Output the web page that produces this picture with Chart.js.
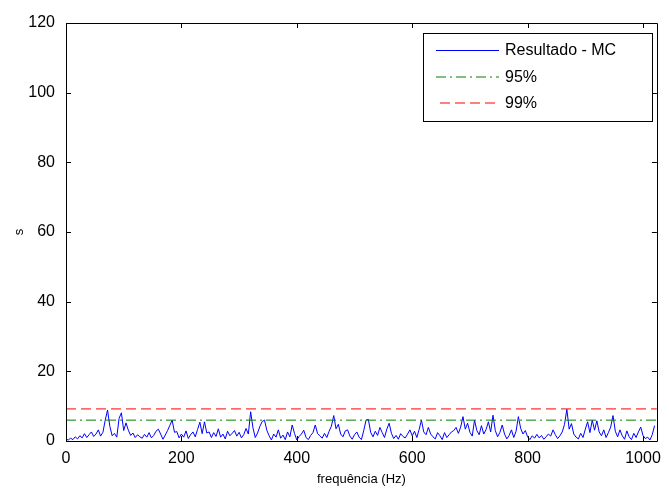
<!DOCTYPE html>
<html>
<head>
<meta charset="utf-8">
<script src="https://cdn.jsdelivr.net/npm/chart.js@4/dist/chart.umd.min.js"></script>
<style>
  html, body { margin: 0; padding: 0; background: #fff; }
  #wrap { width: 669px; height: 488px; position: relative; }
</style>
</head>
<body>
<div id="wrap"><canvas id="c" width="669" height="488"></canvas></div>
<script>
// ---- data ----
const freqStep = 4; // Hz between samples
const resultado = [
  0.5,0.3,0.8,0.4,1.2,0.6,1.5,0.9,2.1,1.0,1.8,2.6,1.3,2.0,3.2,1.4,2.5,6.0,8.9,4.2,1.5,2.2,1.1,6.5,8.1,
  3.0,5.2,3.1,1.6,2.3,1.0,1.8,1.2,0.8,1.9,1.1,2.4,0.9,1.6,2.8,3.4,2.0,0.5,1.7,3.0,4.5,6.0,2.5,2.7,0.9,
  2.0,1.1,2.9,0.7,1.8,2.6,1.2,3.3,5.4,2.1,5.5,2.3,2.6,1.0,2.4,1.3,3.5,1.1,2.0,0.6,2.8,1.5,2.2,3.0,1.4,
  2.5,0.9,1.8,3.6,2.0,8.4,3.8,1.0,2.3,4.2,5.6,6.0,3.1,1.5,0.3,2.0,1.1,3.2,0.8,1.7,0.4,2.6,1.2,4.6,2.2,
  0.3,1.3,2.0,3.1,1.0,0.4,1.6,2.4,4.6,2.1,1.5,0.8,2.2,1.0,2.8,4.3,7.3,3.5,4.8,2.0,1.2,2.9,3.2,1.4,0.5,
  1.8,2.6,1.1,0.4,3.0,6.0,6.2,2.5,1.2,2.8,1.6,3.9,2.4,1.0,3.4,5.1,2.2,0.7,1.6,0.5,2.1,1.3,0.9,2.0,3.2,
  1.5,2.8,1.0,3.3,6.0,2.6,1.8,3.9,2.0,1.2,0.6,2.4,1.5,0.4,2.4,1.0,1.8,2.6,3.0,3.9,2.2,4.0,7.0,3.4,5.1,
  2.5,1.4,6.0,3.0,1.8,4.4,2.0,3.3,5.5,2.6,7.4,3.0,1.2,2.5,4.6,2.0,0.6,1.6,3.2,1.0,2.8,7.0,3.6,2.0,3.0,
  1.2,0.4,1.5,0.8,1.9,0.9,1.6,0.5,1.2,2.0,1.4,3.2,1.8,0.7,1.5,2.6,4.8,9.1,3.4,5.0,2.0,1.1,0.6,2.2,1.0,
  3.4,5.5,2.4,6.0,3.1,5.8,2.6,1.5,3.2,1.0,2.4,4.0,7.3,2.8,1.2,3.2,1.5,0.5,2.9,1.2,0.4,2.2,1.0,2.6,4.0,
  1.6,0.7,1.1,0.3,1.8,4.4
];
const frequencias = resultado.map((_, i) => i * freqStep);
const limiteX = [0, 1024];
const limite95 = [5.99, 5.99];
const limite99 = [9.21, 9.21];
const xTicks = [0, 200, 400, 600, 800, 1000];
const yTicks = [0, 20, 40, 60, 80, 100, 120];
const labels = ['Resultado - MC', '95%', '99%'];
const xTitle = 'frequência (Hz)';
const yTitle = 's';

const FONT = '"Liberation Sans", Arial, Helvetica, sans-serif';
const COLORS = ['rgb(0,0,255)', 'rgb(0,128,0)', 'rgb(255,0,0)'];
const DASHES = [[], [10, 4, 2, 4], [10, 5]];

const pts = (xs, ys) => xs.map((x, i) => ({ x: x, y: ys[i] }));

const boxPlugin = {
  id: 'boxTicks',
  afterDatasetsDraw(chart) {
    const { ctx, chartArea: a, scales } = chart;
    ctx.save();
    ctx.strokeStyle = '#000';
    ctx.lineWidth = 1;
    ctx.setLineDash([]);
    ctx.beginPath();
    ctx.rect(Math.round(a.left) + 0.5, Math.round(a.top) + 0.5,
             Math.round(a.right - a.left), Math.round(a.bottom - a.top));
    const L = 5;
    scales.x.ticks.forEach(t => {
      const px = Math.round(scales.x.getPixelForValue(t.value)) + 0.5;
      ctx.moveTo(px, a.bottom); ctx.lineTo(px, a.bottom - L);
      ctx.moveTo(px, a.top); ctx.lineTo(px, a.top + L);
    });
    scales.y.ticks.forEach(t => {
      const py = Math.round(scales.y.getPixelForValue(t.value)) + 0.5;
      ctx.moveTo(a.left, py); ctx.lineTo(a.left + L, py);
      ctx.moveTo(a.right, py); ctx.lineTo(a.right - L, py);
    });
    ctx.stroke();
    ctx.restore();
  },
  afterDraw(chart) {
    const { ctx } = chart;
    const bx = 423.5, by = 33.5, bw = 229, bh = 88;
    ctx.save();
    ctx.setLineDash([]);
    ctx.fillStyle = '#fff';
    ctx.fillRect(bx, by, bw, bh);
    ctx.strokeStyle = '#000';
    ctx.lineWidth = 1;
    ctx.strokeRect(bx, by, bw, bh);
    const rowsY = [50, 77, 103];
    const starts = [436, 436, 440];
    ctx.font = '16px ' + FONT;
    ctx.textBaseline = 'middle';
    ctx.textAlign = 'left';
    labels.forEach((lab, i) => {
      ctx.beginPath();
      ctx.strokeStyle = COLORS[i];
      ctx.lineWidth = i === 0 ? 1 : 1.2;
      ctx.setLineDash(DASHES[i]);
      const y = i === 0 ? rowsY[i] + 0.5 : rowsY[i];
      ctx.moveTo(starts[i], y); ctx.lineTo(499, y);
      ctx.stroke();
      ctx.setLineDash([]);
      ctx.fillStyle = '#000';
      ctx.fillText(lab, 505, rowsY[i] + 1);
    });
    ctx.restore();
  }
};

new Chart(document.getElementById('c'), {
  type: 'line',
  data: {
    datasets: [
      { label: labels[0], data: pts(frequencias, resultado), borderColor: COLORS[0],
        borderWidth: 1, pointRadius: 0, tension: 0, fill: false, order: 3 },
      { label: labels[1], data: pts(limiteX, limite95), borderColor: COLORS[1],
        borderWidth: 1, borderDash: DASHES[1], pointRadius: 0, tension: 0, fill: false, order: 2 },
      { label: labels[2], data: pts(limiteX, limite99), borderColor: COLORS[2],
        borderWidth: 1, borderDash: DASHES[2], pointRadius: 0, tension: 0, fill: false, order: 1 }
    ]
  },
  options: {
    responsive: false,
    animation: false,
    devicePixelRatio: 1,
    layout: { padding: { top: 23, right: 8, left: 0, bottom: 0 } },
    plugins: { legend: { display: false }, tooltip: { enabled: false } },
    scales: {
      x: {
        type: 'linear', min: 0, max: 1024,
        grid: { display: false, drawTicks: false, tickLength: 0 },
        border: { display: false },
        afterBuildTicks: s => { s.ticks = xTicks.map(v => ({ value: v })); },
        afterFit: s => { s.height = 47; },
        ticks: { font: { family: FONT, size: 16 }, color: '#000', padding: 8, maxRotation: 0, autoSkip: false,
                 callback: v => String(v) },
        title: { display: true, text: xTitle, font: { family: FONT, size: 13 }, color: '#000', padding: { top: 0, bottom: 1 } }
      },
      y: {
        type: 'linear', min: 0, max: 120,
        grid: { display: false, drawTicks: false, tickLength: 0 },
        border: { display: false },
        afterBuildTicks: s => { s.ticks = yTicks.map(v => ({ value: v })); },
        afterFit: s => { s.width = 66; },
        ticks: { font: { family: FONT, size: 16 }, color: '#000', padding: 11, autoSkip: false,
                 callback: v => String(v) },
        title: { display: true, text: yTitle, font: { family: FONT, size: 13 }, color: '#000', padding: { top: 12, bottom: 0 } }
      }
    }
  },
  plugins: [boxPlugin]
});
</script>
</body>
</html>
